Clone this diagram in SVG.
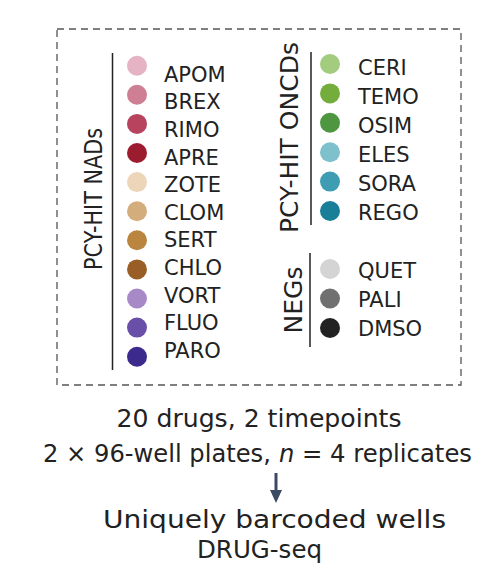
<svg xmlns="http://www.w3.org/2000/svg" width="486" height="583" viewBox="0 0 486 583">
<style>
text{font-family:"DejaVu Sans","Liberation Sans",sans-serif;fill:#222;}
.lab{font-size:21px;}
.grp{font-size:25px;}
.cap{font-size:24.5px;text-anchor:middle;}
.cap2{font-size:24.2px;}
.br{stroke:#222;stroke-width:1.5;fill:none;}
</style>
<rect width="486" height="583" fill="#fff"/>
<rect x="57" y="29" width="404" height="356" fill="none" stroke="#555" stroke-width="1.3" stroke-dasharray="7 5"/>
<g id="group-nads">
<line class="br" x1="112.5" y1="53" x2="112.5" y2="370"/>
<text class="grp" transform="translate(102,199) rotate(-90)" text-anchor="middle" textLength="142" lengthAdjust="spacingAndGlyphs">PCY-HIT NADs</text>
</g>
<g id="group-oncds">
<line class="br" x1="311" y1="52" x2="311" y2="225"/>
<text class="grp" transform="translate(298,137.5) rotate(-90)" text-anchor="middle" textLength="191" lengthAdjust="spacingAndGlyphs">PCY-HIT ONCDs</text>
</g>
<g id="group-negs">
<line class="br" x1="310" y1="253" x2="310" y2="347"/>
<text class="grp" transform="translate(302,300) rotate(-90)" text-anchor="middle" textLength="67" lengthAdjust="spacingAndGlyphs">NEGs</text>
</g>
<g id="apom"><circle cx="137" cy="65.7" r="10" fill="#e5b3c3"/><text class="lab" x="164" y="81.7">APOM</text></g>
<g id="brex"><circle cx="137" cy="94.8" r="10" fill="#cf7f93"/><text class="lab" x="164" y="109.3">BREX</text></g>
<g id="rimo"><circle cx="137" cy="123.9" r="10" fill="#b8435f"/><text class="lab" x="164" y="136.9">RIMO</text></g>
<g id="apre"><circle cx="137" cy="153" r="10" fill="#9b1c2e"/><text class="lab" x="164" y="164.5">APRE</text></g>
<g id="zote"><circle cx="137" cy="182.1" r="10" fill="#ecd5b9"/><text class="lab" x="164" y="192.1">ZOTE</text></g>
<g id="clom"><circle cx="137" cy="211.2" r="10" fill="#d3ae7c"/><text class="lab" x="164" y="219.7">CLOM</text></g>
<g id="sert"><circle cx="137" cy="240.3" r="10" fill="#b9853f"/><text class="lab" x="164" y="247.3">SERT</text></g>
<g id="chlo"><circle cx="137" cy="269.4" r="10" fill="#995e25"/><text class="lab" x="164" y="274.9">CHLO</text></g>
<g id="vort"><circle cx="137" cy="298.5" r="10" fill="#a789c8"/><text class="lab" x="164" y="302.5">VORT</text></g>
<g id="fluo"><circle cx="137" cy="327.6" r="10" fill="#6a4fa8"/><text class="lab" x="164" y="330.1">FLUO</text></g>
<g id="paro"><circle cx="137" cy="356.7" r="10" fill="#3c2a8c"/><text class="lab" x="164" y="357.7">PARO</text></g>
<g id="ceri"><circle cx="330" cy="64" r="10" fill="#a3cc7f"/><text class="lab" x="358" y="75">CERI</text></g>
<g id="temo"><circle cx="330" cy="93.4" r="10" fill="#74ad3c"/><text class="lab" x="358" y="103.9">TEMO</text></g>
<g id="osim"><circle cx="330" cy="122.8" r="10" fill="#4f9641"/><text class="lab" x="358" y="132.8">OSIM</text></g>
<g id="eles"><circle cx="330" cy="152.2" r="10" fill="#7fc0cd"/><text class="lab" x="358" y="161.7">ELES</text></g>
<g id="sora"><circle cx="330" cy="181.6" r="10" fill="#3e9db2"/><text class="lab" x="358" y="190.6">SORA</text></g>
<g id="rego"><circle cx="330" cy="211" r="10" fill="#197f99"/><text class="lab" x="358" y="219.5">REGO</text></g>
<g id="quet"><circle cx="330" cy="269" r="10" fill="#d4d4d4"/><text class="lab" x="358" y="277.5">QUET</text></g>
<g id="pali"><circle cx="330" cy="298.5" r="10" fill="#707070"/><text class="lab" x="358" y="307">PALI</text></g>
<g id="dmso"><circle cx="330" cy="328" r="10" fill="#222222"/><text class="lab" x="358" y="335.5">DMSO</text></g>
<g id="caption-top">
<text class="cap" x="259" y="427" textLength="285" lengthAdjust="spacingAndGlyphs">20 drugs, 2 timepoints</text>
<text class="cap2" x="43" y="462">2 × 96-well plates,</text>
<text class="cap2" x="279" y="462" font-style="italic">n</text>
<text class="cap2" x="302" y="462" textLength="170" lengthAdjust="spacingAndGlyphs">= 4 replicates</text>
</g>
<g id="connectors">
<line x1="276" y1="473" x2="276" y2="492" stroke="#3d4a63" stroke-width="3"/>
<polygon points="270,490 282,490 276,503" fill="#3d4a63"/>
</g>
<g id="caption-bottom">
<text class="cap" x="274.5" y="528" textLength="343" lengthAdjust="spacingAndGlyphs">Uniquely barcoded wells</text>
<text class="cap" x="259.5" y="558" textLength="125" lengthAdjust="spacingAndGlyphs">DRUG-seq</text>
</g>
</svg>
